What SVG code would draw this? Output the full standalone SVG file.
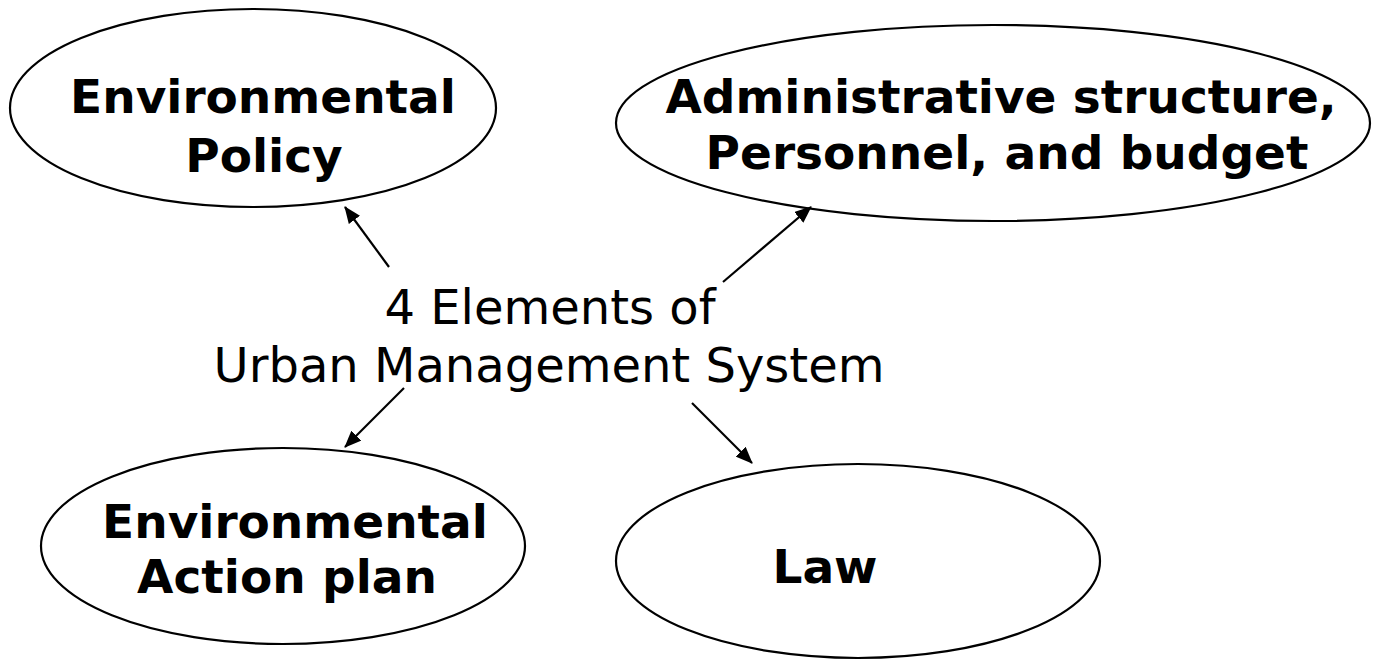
<svg xmlns="http://www.w3.org/2000/svg" width="1373" height="661" viewBox="0 0 1373 661">
<style>
.node ellipse{fill:#fff;stroke:#000;stroke-width:2.2}
.lbl{font-family:"DejaVu Sans",Verdana,sans-serif;font-weight:bold;font-size:47px;text-anchor:middle;fill:#000}
.ctr{font-family:"DejaVu Sans",Verdana,sans-serif;font-size:48px;text-anchor:middle;fill:#000}
.conn line{stroke:#000;stroke-width:2.2;marker-end:url(#ah)}
</style>
<defs>
<marker id="ah" markerUnits="userSpaceOnUse" markerWidth="18" markerHeight="14" refX="16" refY="7" orient="auto">
<path d="M0,0 L17,7 L0,14 Z" fill="#000"/>
</marker>
</defs>
<rect width="1373" height="661" fill="#fff"/>
<g id="policy" class="node">
<ellipse cx="253" cy="108" rx="243" ry="99"/>
<text class="lbl" x="263" y="113">Environmental</text>
<text class="lbl" x="264" y="172">Policy</text>
</g>
<g id="admin" class="node">
<ellipse cx="993" cy="123" rx="377" ry="98"/>
<text class="lbl" x="1001" y="113">Administrative structure,</text>
<text class="lbl" x="1007" y="169">Personnel, and budget</text>
</g>
<g id="action" class="node">
<ellipse cx="283" cy="546" rx="242" ry="98"/>
<text class="lbl" x="295" y="538">Environmental</text>
<text class="lbl" x="287" y="593">Action plan</text>
</g>
<g id="law" class="node">
<ellipse cx="858" cy="561" rx="242" ry="97"/>
<text class="lbl" x="825" y="583">Law</text>
</g>
<g id="center">
<text class="ctr" x="550" y="324">4 Elements of</text>
<text class="ctr" x="549" y="382">Urban Management System</text>
</g>
<g id="connectors" class="conn">
<line x1="389" y1="267" x2="345" y2="207"/>
<line x1="723" y1="282" x2="811" y2="207"/>
<line x1="404" y1="388" x2="345" y2="447"/>
<line x1="692" y1="403" x2="752" y2="463"/>
</g>
</svg>
